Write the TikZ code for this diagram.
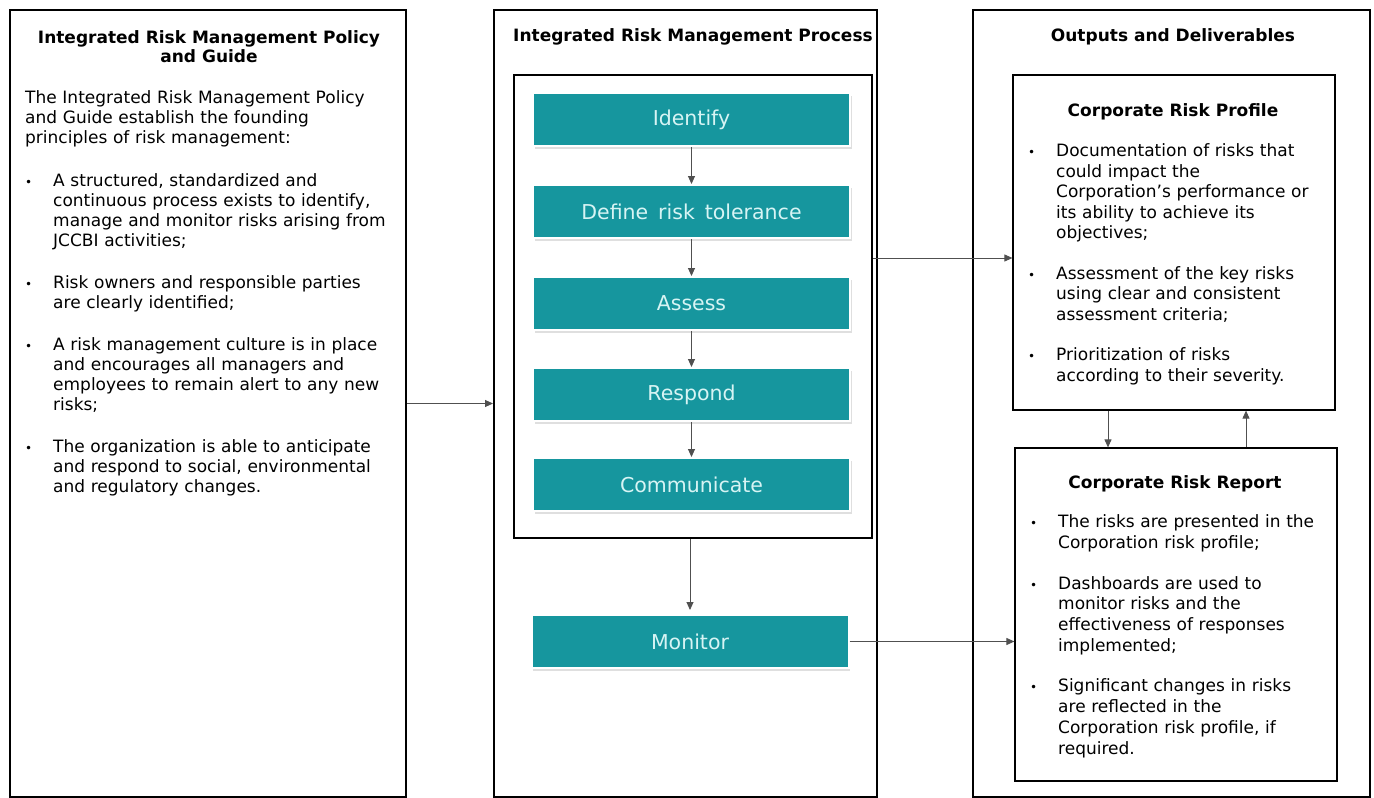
\documentclass[tikz,border=0pt]{standalone}
\usepackage{fontspec}
\setmainfont{DejaVu Sans}
\usepackage{enumitem}
\usetikzlibrary{shadows,arrows.meta}

\definecolor{riskteal}{RGB}{22,150,158}
\definecolor{tealtext}{RGB}{215,244,244}
\definecolor{arrowgray}{RGB}{80,80,80}
\newcommand{\bodyfont}{\fontsize{17}{20}\selectfont}
\setlist[itemize]{label={\fontsize{12}{12}\selectfont\textbullet}, leftmargin=28pt, labelwidth=10pt,
  labelsep=18pt, align=left, itemsep=22pt, parsep=0pt, topsep=23pt, partopsep=0pt}

\begin{document}
\begin{tikzpicture}[x=1pt, y=-1pt,
    panel/.style={draw, line width=2pt, minimum width=#1, minimum height=787pt},
    outbox/.style={draw, line width=1.2pt, minimum width=322pt},
    stepbox/.style={fill=riskteal, draw=white, line width=2pt, text=tealtext,
      minimum width=317pt, minimum height=53pt, font=\fontsize{20.5}{22}\selectfont,
      drop shadow={shadow xshift=1.5pt, shadow yshift=-2.5pt, opacity=0.25}},
    heading/.style={font=\fontsize{17}{19}\selectfont\bfseries, align=center},
    listtext/.style={font=\bodyfont, align=left, inner sep=0pt},
    arr/.style={draw=arrowgray, line width=0.9pt, -{Triangle[length=8pt, width=7pt]}}]
  \useasboundingbox (0,0) rectangle (1374,798);

  % three columns
  \node[panel=396pt] (policy) at (208,403.5) {};
  \node[panel=383pt] (process) at (685.5,403.5) {};
  \node[panel=397pt] (outputs) at (1171.5,403.5) {};

  % left column
  \node[heading, anchor=base] (policytitle) at (209,62)
    {Integrated Risk Management Policy\\ and Guide};
  \node[listtext, text width=380pt, anchor=base west] (policytext) at (25,103) {%
    The Integrated Risk Management Policy\\ and Guide establish the founding\\
    principles of risk management:
    \begin{itemize}
      \item A structured, standardized and\\ continuous process exists to identify,\\
        manage and monitor risks arising from\\ JCCBI activities;
      \item Risk owners and responsible parties\\ are clearly identified;
      \item A risk management culture is in place\\ and encourages all managers and\\
        employees to remain alert to any new\\ risks;
      \item The organization is able to anticipate\\ and respond to social, environmental\\
        and regulatory changes.
    \end{itemize}};

  % middle column
  \node[heading, anchor=base] (processtitle) at (693,41) {Integrated Risk Management Process};
  \node[draw, line width=2pt, minimum width=358pt, minimum height=463pt] (cycle) at (693,306.5) {};
  \node[stepbox] (identify) at (691.5,119.5) {Identify};
  \node[stepbox] (tolerance) at (691.5,211.5) {Define\, risk\, tolerance};
  \node[stepbox] (assess) at (691.5,303.5) {Assess};
  \node[stepbox] (respond) at (691.5,394.5) {Respond};
  \node[stepbox] (communicate) at (691.5,484.5) {Communicate};
  \node[stepbox] (monitor) at (690,641.5) {Monitor};

  \draw[arr] (identify.south) -- (tolerance.north);
  \draw[arr] (tolerance.south) -- (assess.north);
  \draw[arr] (assess.south) -- (respond.north);
  \draw[arr] (respond.south) -- (communicate.north);
  \draw[arr] (cycle.south -| monitor.north) -- ([yshift=4pt]monitor.north);

  % right column
  \node[heading, anchor=base] (outputstitle) at (1173,41) {Outputs and Deliverables};
  \node[outbox, minimum height=335pt] (profile) at (1174,242.5) {};
  \node[outbox, minimum height=333pt] (report) at (1176,614.5) {};

  \node[heading, anchor=base] (profiletitle) at (1173,116) {Corporate Risk Profile};
  \node[listtext, text width=310pt, anchor=base west] (profiletext) at (1028,136) {%
    \fontsize{17}{20.5}\selectfont
    \begin{itemize}[leftmargin=28pt, topsep=0pt, itemsep=20pt]
      \item Documentation of risks that\\ could impact the\\ Corporation's performance or\\
        its ability to achieve its\\ objectives;
      \item Assessment of the key risks\\ using clear and consistent\\ assessment criteria;
      \item Prioritization of risks\\ according to their severity.
    \end{itemize}};

  \node[heading, anchor=base] (reporttitle) at (1175,488) {Corporate Risk Report};
  \node[listtext, text width=310pt, anchor=base west] (reporttext) at (1030,507) {%
    \fontsize{17}{20.7}\selectfont
    \begin{itemize}[leftmargin=28pt, topsep=0pt, itemsep=20pt]
      \item The risks are presented in the\\ Corporation risk profile;
      \item Dashboards are used to\\ monitor risks and the\\ effectiveness of responses\\
        implemented;
      \item Significant changes in risks\\ are reflected in the\\ Corporation risk profile, if\\
        required.
    \end{itemize}};

  % connectors
  \draw[arr] (policy.east) -- (process.west);
  \draw[arr] (cycle.east |- 0,258) -- (profile.west |- 0,258);
  \draw[arr] (monitor.east) -- (monitor.east -| report.west);
  \draw[arr] (profile.south -| 1108,0) -- (report.north -| 1108,0);
  \draw[arr] (report.north -| 1246,0) -- (profile.south -| 1246,0);
\end{tikzpicture}
\end{document}
